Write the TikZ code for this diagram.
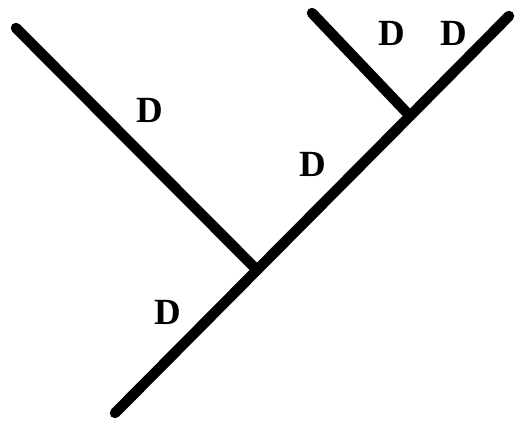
\documentclass[tikz,border=0pt]{standalone}
\usepackage{fontspec}
\setmainfont{Liberation Serif}
\usepackage{tikz}
\usetikzlibrary{positioning}

\begin{document}
\begin{tikzpicture}[x=0.02cm,y=-0.02cm,
    branch/.style={line width=0.21cm,line cap=round,line join=round,black},
    lbl/.style={font=\fontsize{21}{21}\selectfont\bfseries,inner sep=0pt}]
    \useasboundingbox (0,0) rectangle (521,427);
    \coordinate (root) at (115,413);
    \coordinate (j1) at (257,270);
    \coordinate (j2) at (410,116);
    \coordinate (lefttip) at (16,28);
    \coordinate (righttip) at (509,16);
    \coordinate (shorttip) at (312,13);
    \draw[branch] (root) -- (j1) -- (j2) -- (righttip);
    \draw[branch] (lefttip) -- (j1);
    \draw[branch] (shorttip) -- (j2);
    \node[lbl] (dleft) at (150,110) {D};
    \node[lbl] (dmid) at (313,164) {D};
    \node[lbl] (droot) at (168,312) {D};
    \node[lbl] (dshort) at (392,33) {D};
    \node[lbl] (dright) at (454,33) {D};
  \end{tikzpicture}
\end{document}
